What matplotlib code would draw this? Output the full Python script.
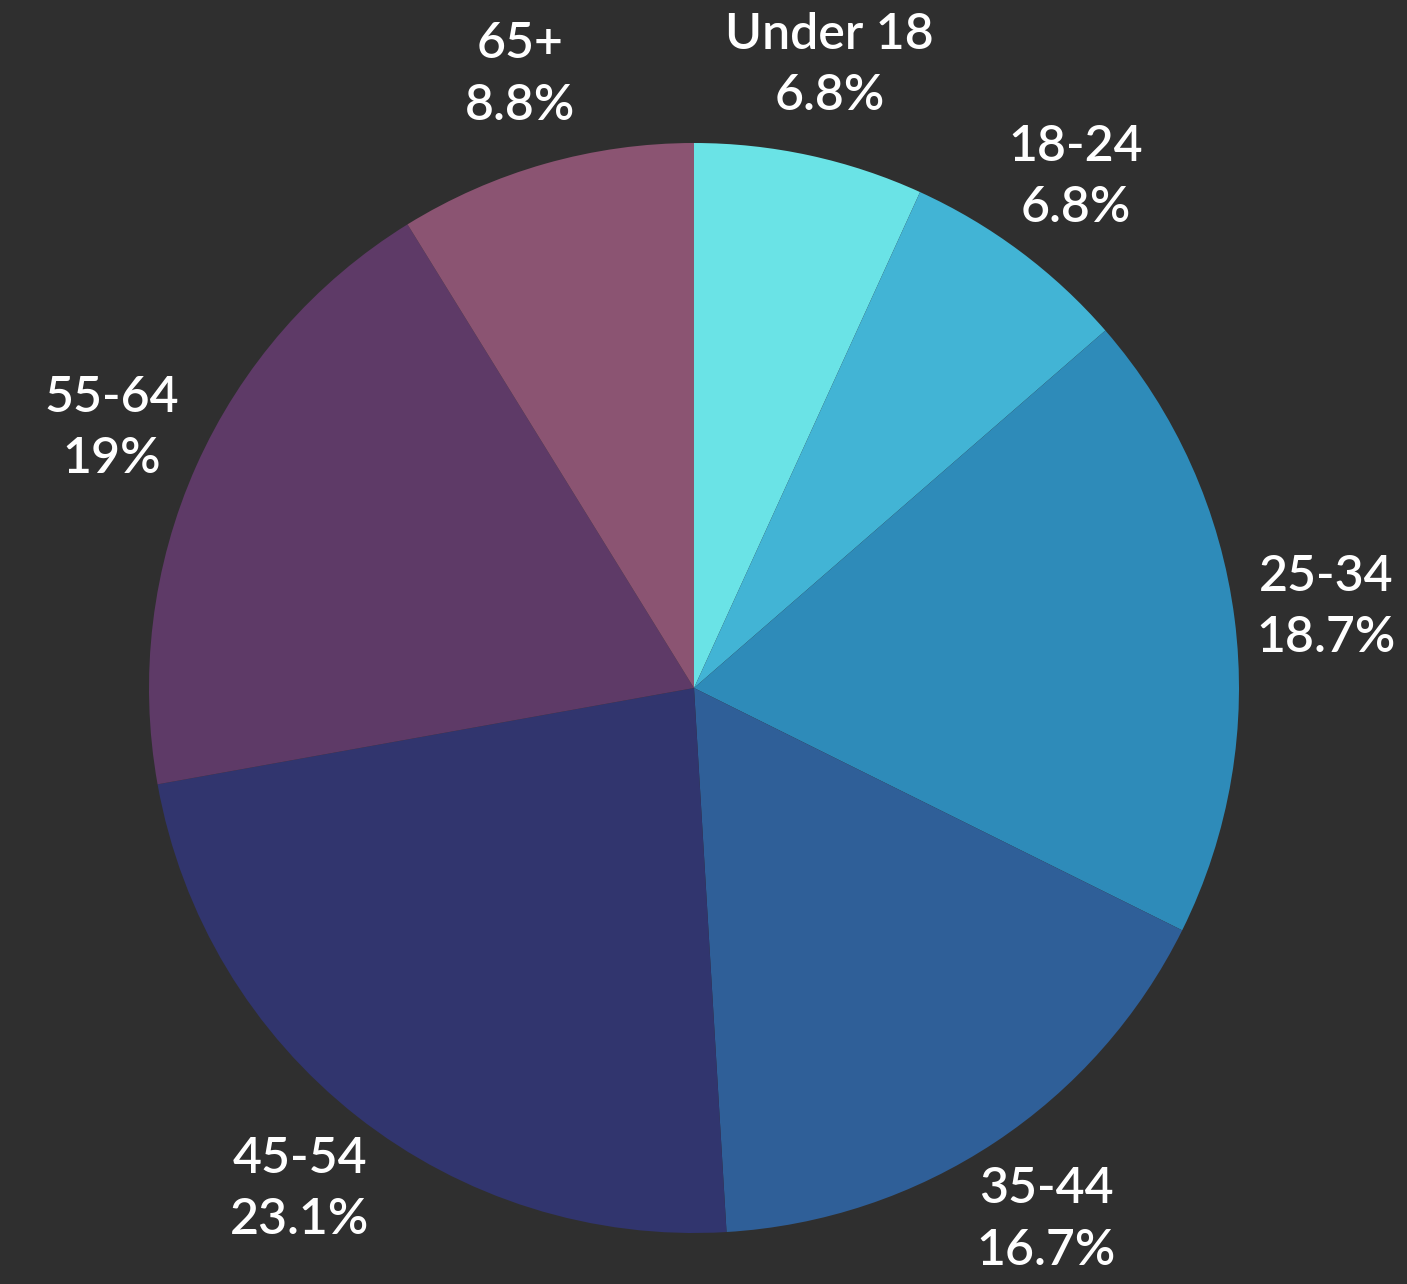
import numpy as np
import matplotlib.pyplot as plt

categories = ["Under 18", "18-24", "25-34", "35-44", "45-54", "55-64", "65+"]
shares = [6.8, 6.8, 18.7, 16.7, 23.1, 19, 8.8]
pct_labels = ["6.8%", "6.8%", "18.7%", "16.7%", "23.1%", "19%", "8.8%"]
colors = ["#6ae3e6", "#42b4d5", "#2e8bb9", "#2f5f98", "#31356e", "#5e3a67", "#8b5472"]

BG = "#2f2f2f"
W, H = 1407, 1284
CX, CY, R = 694, 688, 545

fig = plt.figure(figsize=(W / 100, H / 100), dpi=100, facecolor=BG)
ax = fig.add_axes([(CX - R) / W, (H - CY - R) / H, 2 * R / W, 2 * R / H])
ax.set_facecolor(BG)

wedges, _ = ax.pie(shares, colors=colors, startangle=90, counterclock=False,
                   radius=1.0, wedgeprops=dict(linewidth=0))
ax.set_xlim(-1, 1)
ax.set_ylim(-1, 1)
ax.axis("off")

total = sum(shares)
cum = 0
for cat, val, pct in zip(categories, shares, pct_labels):
    mid = 90 - (cum + val / 2) / total * 360
    cum += val
    a = np.deg2rad(mid)
    ax.text(1.17 * np.cos(a), 1.17 * np.sin(a), f"{cat}\n{pct}",
            ha="center", va="center", color="white", fontsize=36,
            family="Lato", weight="semibold", linespacing=1.45, clip_on=False)

fig.savefig("out.png", dpi=100, facecolor=BG)
